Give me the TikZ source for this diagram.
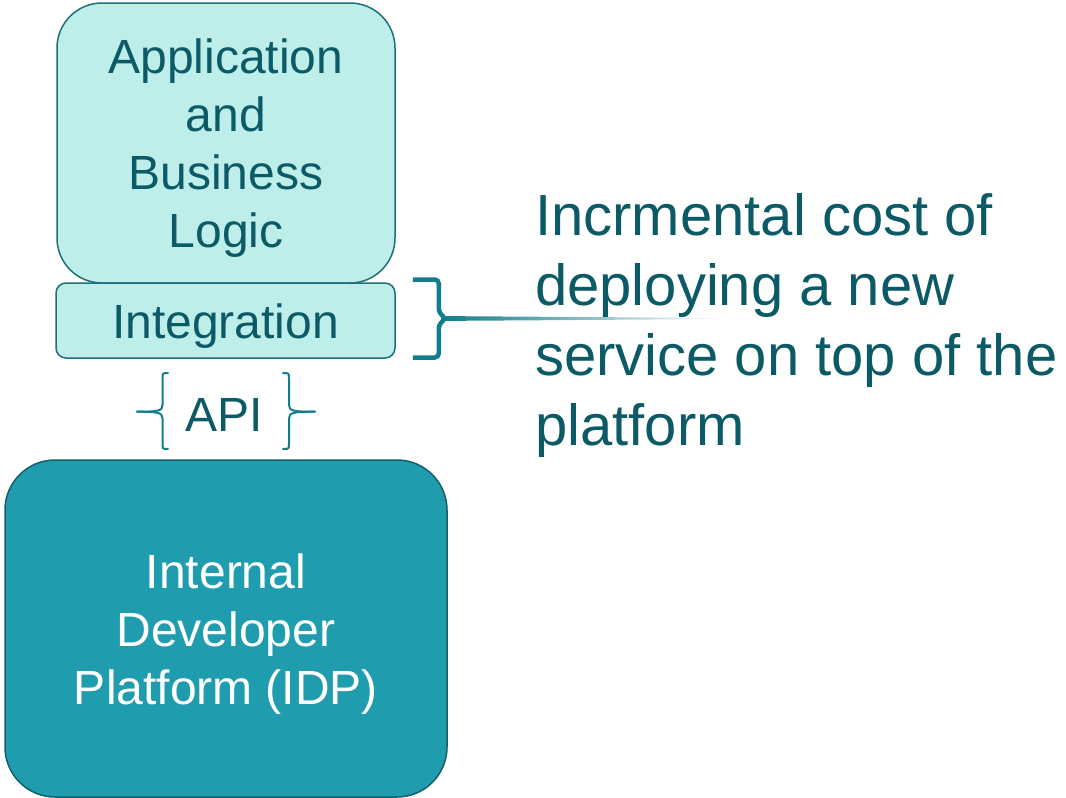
\documentclass[tikz,border=0pt]{standalone}
\usepackage{fontspec}
\setmainfont{Liberation Sans}
\usetikzlibrary{positioning,calc}

\definecolor{tealtext}{HTML}{0B5A66}
\definecolor{tealline}{HTML}{1D6F79}
\definecolor{tealpale}{HTML}{BDEEEA}
\definecolor{tealdeep}{HTML}{1F9DAF}
\definecolor{tealedge}{HTML}{155F6A}
\definecolor{tealbrace}{HTML}{137D8C}

\tikzset{
  layer/.style={draw=tealline, line width=1.5pt, fill=tealpale, inner sep=0pt},
  platform/.style={layer, draw=tealedge, fill=tealdeep},
  layertext/.style={text=tealtext, align=center, inner sep=0pt, yshift=-5.5pt,
    font=\fontsize{48}{58}\selectfont},
  platformtext/.style={layertext, text=white},
  bracket/.style={draw=tealbrace, line width=4.5pt, rounded corners=4pt},
  apibrace/.style={draw=tealbrace, line width=2pt, line cap=round}
}

\begin{document}
\begin{tikzpicture}[x=1pt, y=-1pt]
\useasboundingbox (0,0) rectangle (1066,798);

%% stack
\node[layer, rounded corners=45pt, minimum width=338pt, minimum height=280pt,
  label={[layertext]center:Application\\and\\Business\\Logic}] (app) at (226,143) {};
\node[layer, rounded corners=10pt, minimum width=339pt, minimum height=75pt,
  label={[layertext]center:Integration}] (integ) at (225.5,320.5) {};
\node[text=tealtext, inner sep=0pt, font=\fontsize{48}{58}\selectfont]
  (api) at (224,415) {API};
\node[platform, rounded corners=50pt, minimum width=442pt, minimum height=337pt,
  label={[platformtext]center:Internal\\Developer\\Platform (IDP)}] (idp) at (226,628.5) {};

%% api braces
\draw[apibrace] ($(api)+(-56,-42)$) .. controls ($(api)+(-61.5,-42)$) .. ($(api)+(-61.5,-36)$)
  -- ($(api)+(-61.5,-10)$) .. controls ($(api)+(-61.5,-4)$) and ($(api)+(-66,-3.3)$) .. ($(api)+(-87,-3.3)$);
\draw[apibrace] ($(api)+(-87,-3.3)$) .. controls ($(api)+(-66,-3.3)$) and ($(api)+(-61.5,-2.5)$) .. ($(api)+(-61.5,3.5)$)
  -- ($(api)+(-61.5,28)$) .. controls ($(api)+(-61.5,34)$) .. ($(api)+(-56,34)$);
\draw[apibrace] ($(api)+(59,-42)$) .. controls ($(api)+(65,-42)$) .. ($(api)+(65,-36)$)
  -- ($(api)+(65,-10)$) .. controls ($(api)+(65,-4)$) and ($(api)+(69.5,-3.3)$) .. ($(api)+(91,-3.3)$);
\draw[apibrace] ($(api)+(91,-3.3)$) .. controls ($(api)+(69.5,-3.3)$) and ($(api)+(65,-2.5)$) .. ($(api)+(65,3.5)$)
  -- ($(api)+(65,28)$) .. controls ($(api)+(65,34)$) .. ($(api)+(59,34)$);

%% integration bracket
\coordinate (tip) at ($(integ.east)+(50,-2)$);
\coordinate (tailend) at ($(tip)+(280,0)$);
\draw[bracket] ($(integ.east)+(17,-41)$) -- ($(integ.east)+(43,-41)$) -- ($(integ.east)+(43,-8)$)
  -- (tip) -- ($(integ.east)+(43,4)$) -- ($(integ.east)+(43,37)$) -- ($(integ.east)+(17,37)$);
\shade[left color=tealbrace, middle color=tealbrace!80, right color=white]
  ($(tip)+(-2,-2.4)$) -- ($(tailend)+(0,-0.5)$) -- ($(tailend)+(0,0.5)$) -- ($(tip)+(-2,2.4)$) -- cycle;

%% note
\node[anchor=west, align=left, text=tealtext, inner sep=0pt, font=\fontsize{58}{70}\selectfont]
  (cost) at (535,325) {Incrmental cost of\\deploying a new\\service on top of the\\platform};
\end{tikzpicture}
\end{document}
